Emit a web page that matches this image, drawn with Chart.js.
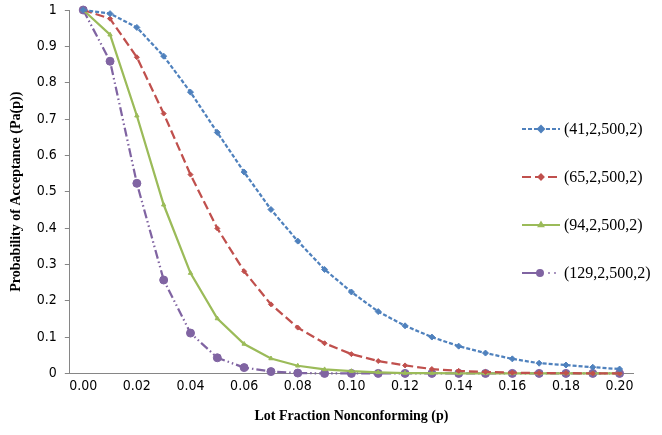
<!DOCTYPE html>
<html>
<head>
<meta charset="utf-8">
<script src="https://cdn.jsdelivr.net/npm/chart.js@4.4.0/dist/chart.umd.min.js"></script>
<style>
  html, body { margin: 0; padding: 0; background: #fff; }
  #wrap { width: 662px; height: 435px; }
</style>
</head>
<body>
<div id="wrap"><canvas id="oc"></canvas></div>
<script>
// Lot fraction nonconforming (category labels)
const pLabels = ['0.00','0.01','0.02','0.03','0.04','0.05','0.06','0.07','0.08','0.09','0.10',
                 '0.11','0.12','0.13','0.14','0.15','0.16','0.17','0.18','0.19','0.20'];

const seriesNames = ['(41,2,500,2)', '(65,2,500,2)', '(94,2,500,2)', '(129,2,500,2)'];

// Pa(p)
const pa41  = [1.000, 0.990, 0.952, 0.873, 0.774, 0.663, 0.554, 0.451, 0.364, 0.286, 0.224,
               0.170, 0.131, 0.100, 0.075, 0.056, 0.040, 0.028, 0.023, 0.017, 0.012];
const pa65  = [1.000, 0.976, 0.870, 0.715, 0.547, 0.399, 0.281, 0.190, 0.126, 0.083, 0.053,
               0.034, 0.022, 0.012, 0.007, 0.004, 0.002, 0.001, 0.001, 0.000, 0.000];
const pa94  = [1.000, 0.932, 0.709, 0.464, 0.276, 0.151, 0.081, 0.041, 0.021, 0.011, 0.006,
               0.003, 0.001, 0.001, 0.000, 0.000, 0.000, 0.000, 0.000, 0.000, 0.000];
const pa129 = [1.000, 0.859, 0.523, 0.257, 0.111, 0.043, 0.016, 0.005, 0.001, 0.000, 0.000,
               0.000, 0.000, 0.000, 0.000, 0.000, 0.000, 0.000, 0.000, 0.000, 0.000];

const yTicks = [0, 0.1, 0.2, 0.3, 0.4, 0.5, 0.6, 0.7, 0.8, 0.9, 1];

const colors = ['#4F81BD', '#C0504D', '#9BBB59', '#8064A2'];
const dashes = [[4, 2], [9, 4], [], [9, 3, 1.5, 3, 1.5, 3]];
const shapes = ['rectRot', 'rectRot', 'triangle', 'circle'];
const radii  = [3, 2.5, 2.5, 4];

const tickFont = { family: '"Liberation Sans Narrow", "DejaVu Sans Condensed", sans-serif', size: 14 };
const titleFont = { family: '"Liberation Serif", "Times New Roman", serif', size: 14, weight: 'bold' };

function makeSet(i, data) {
  return {
    label: seriesNames[i],
    data: data,
    borderColor: colors[i],
    backgroundColor: colors[i],
    borderWidth: 2.25,
    borderDash: dashes[i],
    pointStyle: shapes[i],
    pointRadius: radii[i],
    pointBorderWidth: 1,
    tension: 0,
    clip: 8
  };
}

// Legend drawn over the plot, like the original
const overlayLegend = {
  id: 'overlayLegend',
  afterDraw(chart) {
    const ctx = chart.ctx;
    const x0 = 522, y0 = 129, gap = 48;
    ctx.save();
    chart.data.datasets.forEach((ds, i) => {
      const y = y0 + i * gap;
      ctx.strokeStyle = ds.borderColor;
      ctx.lineWidth = 2;
      ctx.setLineDash(i === 3 ? [] : ds.borderDash);
      ctx.beginPath();
      let mx = x0 + 19;
      if (i === 3) {
        ctx.moveTo(x0, y); ctx.lineTo(x0 + 20, y);
        ctx.stroke();
        ctx.fillStyle = ds.borderColor;
        [27, 33].forEach(dx => { ctx.beginPath(); ctx.arc(x0 + dx, y, 0.9, 0, Math.PI * 2); ctx.fill(); });
        mx = x0 + 18;
      } else {
        ctx.moveTo(x0, y); ctx.lineTo(x0 + 38, y);
        ctx.stroke();
      }
      ctx.setLineDash([]);
      ctx.fillStyle = ds.borderColor;
      Chart.helpers.drawPoint(ctx, { pointStyle: ds.pointStyle, radius: i === 3 ? 3 : ds.pointRadius, borderWidth: 1 }, mx, y);
      ctx.fillStyle = '#000';
      ctx.font = '16px "Liberation Serif", "Times New Roman", serif';
      ctx.textBaseline = 'middle';
      ctx.fillText(ds.label, x0 + 42, y + 1);
    });
    ctx.restore();
  }
};

new Chart(document.getElementById('oc'), {
  type: 'line',
  data: {
    labels: pLabels,
    datasets: [makeSet(0, pa41), makeSet(1, pa65), makeSet(2, pa94), makeSet(3, pa129)]
  },
  options: {
    responsive: true,
    maintainAspectRatio: false,
    animation: false,
    layout: { autoPadding: false, padding: { top: 0, right: 29, left: 4, bottom: 8 } },
    plugins: {
      legend: { display: false },
      tooltip: { enabled: false }
    },
    scales: {
      x: {
        type: 'category',
        offset: true,
        grid: { display: false, drawTicks: false },
        border: { color: '#868686', width: 1 },
        ticks: {
          autoSkip: false,
          maxRotation: 0,
          padding: 5,
          color: '#000',
          font: tickFont,
          callback: (v, i) => (i % 2 === 0 ? pLabels[i] : '')
        },
        title: { display: true, text: 'Lot Fraction Nonconforming (p)', color: '#000', font: titleFont, padding: { top: 8, bottom: 2 } }
      },
      y: {
        min: 0,
        max: 1,
        afterBuildTicks: axis => { axis.ticks = yTicks.map(v => ({ value: v })); },
        afterFit: axis => { axis.paddingTop = 10; axis.paddingBottom = 10; },
        grid: { drawOnChartArea: false, drawTicks: true, tickLength: 5, color: '#868686' },
        border: { color: '#868686', width: 1 },
        ticks: {
          padding: 8,
          color: '#000',
          font: tickFont,
          callback: v => String(Math.round(v * 10) / 10)
        },
        title: { display: true, text: 'Probability of Acceptance (Pa(p))', color: '#000', font: titleFont, padding: { bottom: 4 } }
      }
    }
  },
  plugins: [overlayLegend]
});
</script>
</body>
</html>
